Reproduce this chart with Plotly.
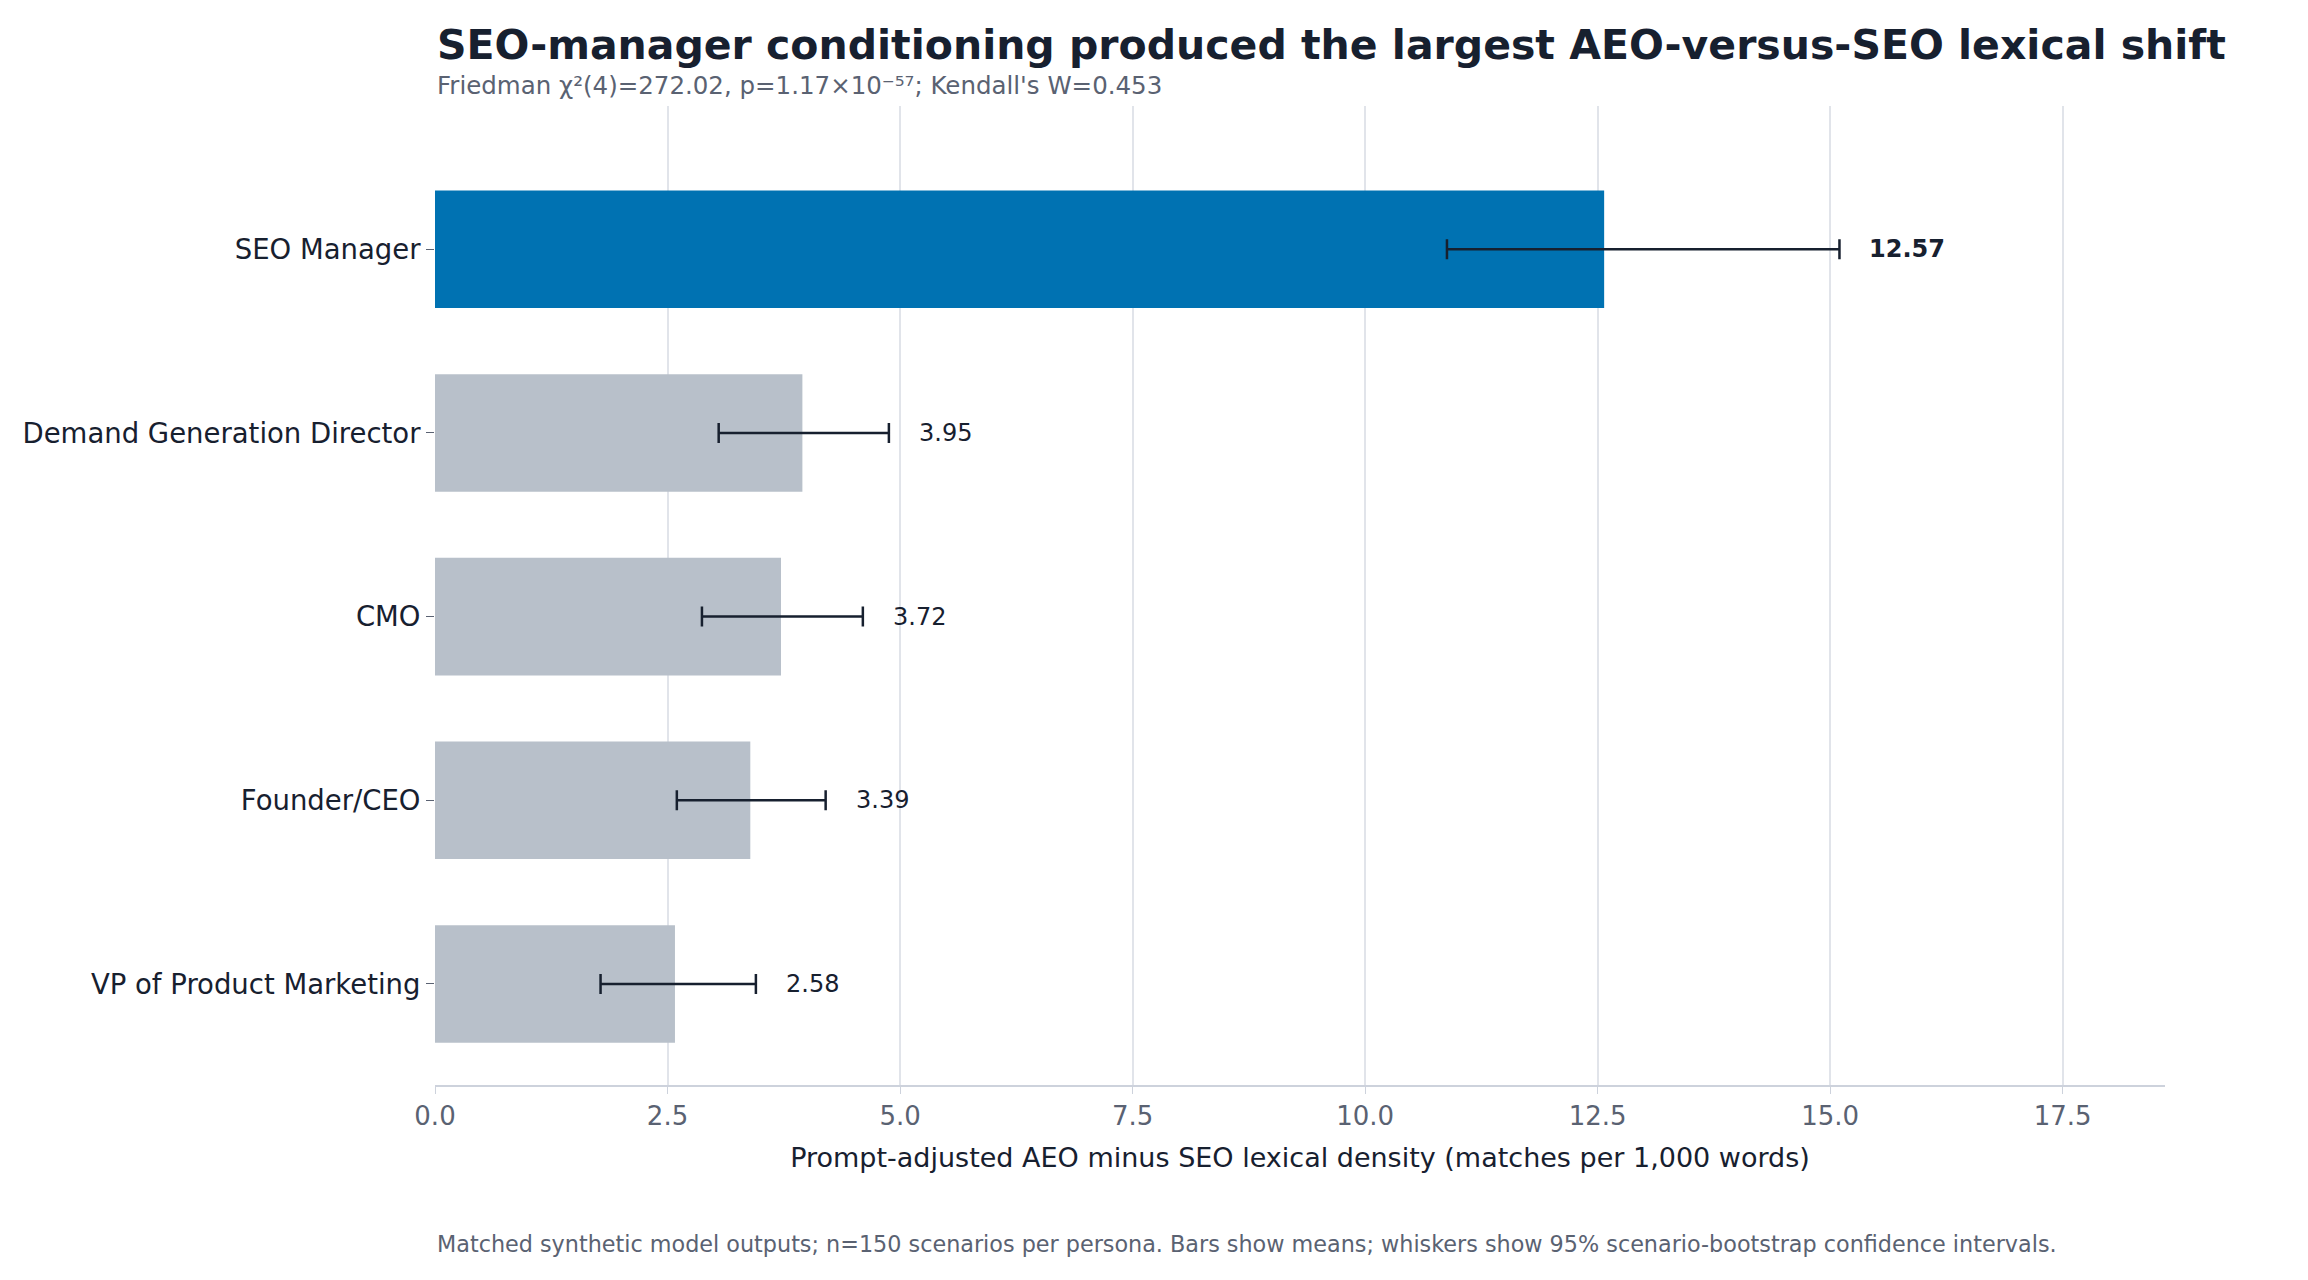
import plotly.graph_objects as go

personas = ["VP of Product Marketing", "Founder/CEO", "CMO", "Demand Generation Director", "SEO Manager"]
means = [2.58, 3.39, 3.72, 3.95, 12.57]
ci_low = [1.78, 2.60, 2.87, 3.05, 10.88]
ci_high = [3.45, 4.20, 4.60, 4.88, 15.10]
colors = ["#b8c0ca", "#b8c0ca", "#b8c0ca", "#b8c0ca", "#0072b2"]
x_ticks = [0.0, 2.5, 5.0, 7.5, 10.0, 12.5, 15.0, 17.5]

fig = go.Figure()
fig.add_trace(go.Bar(
    y=personas, x=means, orientation="h", marker=dict(color=colors, line_width=0),
    width=0.64,
    error_x=dict(type="data", symmetric=False,
                 array=[h - m for h, m in zip(ci_high, means)],
                 arrayminus=[m - l for l, m in zip(ci_low, means)],
                 color="#17202f", thickness=2.5, width=10),
    showlegend=False, hoverinfo="skip"))

for p, m, h in zip(personas, means, ci_high):
    bold = p == "SEO Manager"
    fig.add_annotation(x=h + 0.3, y=p, text=(f"<b>{m:.2f}</b>" if bold else f"{m:.2f}"),
                       showarrow=False, xanchor="left",
                       font=dict(size=24, color="#17202f", family="DejaVu Sans"))

fig.update_layout(
    width=2308, height=1280, plot_bgcolor="white", paper_bgcolor="white",
    margin=dict(l=427, r=151, t=98, b=203),
    font=dict(family="DejaVu Sans", color="#17202f"),
    xaxis=dict(range=[0, 18.6], tickvals=x_ticks, ticktext=[f"{v:.1f}" for v in x_ticks],
               showgrid=True, gridcolor="#e1e4ea", gridwidth=1.5, zeroline=False,
               showline=True, linecolor="#cdd2dc", linewidth=2, ticks="outside",
               tickcolor="#cdd2dc", ticklen=7,
               tickfont=dict(size=26, color="#5a6272"),
               title=dict(text="Prompt-adjusted AEO minus SEO lexical density (matches per 1,000 words)",
                          font=dict(size=27, color="#17202f"), standoff=18)),
    yaxis=dict(categoryorder="array", categoryarray=personas, showgrid=False,
               ticks="outside", ticklen=8, tickcolor="#5a6272", showline=False,
               tickfont=dict(size=27.5, color="#17202f"), range=[-0.55, 4.78]),
)
fig.add_annotation(xref="paper", yref="paper", x=0, y=1.0, yshift=61, xanchor="left", yanchor="middle",
                   text="<b>SEO-manager conditioning produced the largest AEO-versus-SEO lexical shift</b>",
                   showarrow=False, font=dict(size=41, color="#17202f"))
fig.add_annotation(xref="paper", yref="paper", x=0, y=1.0, yshift=21, xanchor="left", yanchor="middle",
                   text="Friedman χ²(4)=272.02, p=1.17×10⁻⁵⁷; Kendall's W=0.453",
                   showarrow=False, font=dict(size=24.5, color="#5a6272"))
fig.add_annotation(xref="paper", yref="paper", x=0, y=0, yshift=-159, xanchor="left", yanchor="middle",
                   text="Matched synthetic model outputs; n=150 scenarios per persona. Bars show means; whiskers show 95% scenario-bootstrap confidence intervals.",
                   showarrow=False, font=dict(size=22.3, color="#5a6272"))
fig.write_html("out.html")
